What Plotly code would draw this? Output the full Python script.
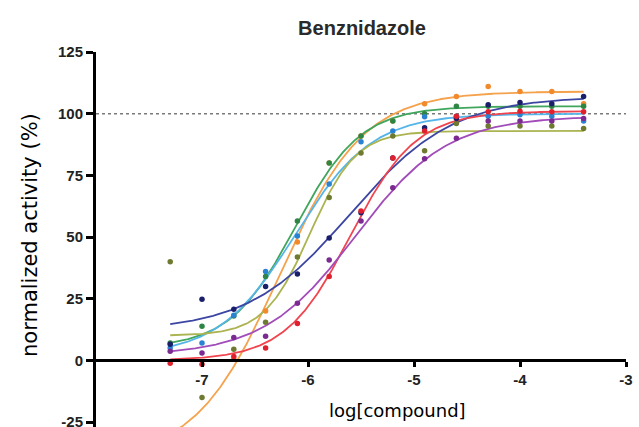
import plotly.graph_objects as go
import numpy as np

# ---- data ----
LOG_CONC = [-7.3, -7.0, -6.7, -6.4, -6.1, -5.8, -5.5, -5.2, -4.9, -4.6, -4.3, -4.0, -3.7, -3.4]

series_names = ["orange", "green", "blue", "olive", "navy", "red", "purple"]

orange_vals = [None, None, 0.5, 20, 48, 80, 91, 97, 104, 107, 111, 109, 109, 104]
green_vals = [7, 13.8, 18, 34, 56.5, 80, 91, 97, 100, 103, 103, 103, 103, 103]
blue_vals = [5, 7, 18.3, 36, 50.4, 71.5, 88.6, 93, 98.8, 99, 99, 99.6, 99, 97]
olive_vals = [40, -15, 4.5, 15.5, 41.9, 66, 84.1, 91, 85, 96, 95, 95, 95, 94]
navy_vals = [6.5, 24.8, 20.7, 30, 35, 49.6, 59.8, 82, 94.3, 98, 103.6, 104.5, 104, 107]
red_vals = [-1.2, -1.6, 1.6, 5, 15, 34, 60.6, 82, 93, 99, 100.8, 101, 100.8, 100.8]
purple_vals = [3.7, 3, 9.3, 9.8, 23.2, 40.7, 56.5, 70, 81.7, 90, 97, 97, 97, 98]

# fitted 4-parameter logistic curves (bottom, top, logEC50, hill)
fit_bottom = [-40, 5, 2, 10, 12, 0, 2]
fit_top = [109, 103, 100, 93, 107, 101, 99]
fit_logec50 = [-6.27, -6.12, -6.12, -5.98, -5.6, -5.6, -5.55]
fit_hill = [1.1, 1.4, 1.2, 2.0, 0.9, 1.4, 1.0]

Y_TICKS = [-25, 0, 25, 50, 75, 100, 125]
X_TICKS = [-7, -6, -5, -4, -3]
REFERENCE_LEVEL = 100

# ---- styles ----
line_colors = ["#F5A24C", "#3FA65C", "#55B5EA", "#ABB450", "#3C45A2", "#F0444E", "#A24CBA"]
marker_colors = ["#F08A2A", "#2E8544", "#2C82D2", "#6E7A30", "#1A1F6A", "#E0202E", "#7A2A90"]

all_vals = [orange_vals, green_vals, blue_vals, olive_vals, navy_vals, red_vals, purple_vals]

Y_MIN, Y_MAX = -27.0, 125
X_MIN, X_MAX = -8, -3

fig = go.Figure()

xs = np.linspace(min(LOG_CONC), max(LOG_CONC), 300)
for i, name in enumerate(series_names):
    b, t, e, h = fit_bottom[i], fit_top[i], fit_logec50[i], fit_hill[i]
    ys = b + (t - b) / (1 + 10 ** ((e - xs) * h))
    fig.add_trace(go.Scatter(x=xs, y=ys, mode="lines",
                             line=dict(color=line_colors[i], width=1.8),
                             showlegend=False, hoverinfo="skip"))

for i, name in enumerate(series_names):
    fig.add_trace(go.Scatter(x=LOG_CONC, y=all_vals[i], mode="markers",
                             marker=dict(color=marker_colors[i], size=5.5),
                             name=name, showlegend=False))

# dotted 100% line
fig.add_shape(type="line", xref="x", yref="y", x0=X_MIN, x1=X_MAX,
              y0=REFERENCE_LEVEL, y1=REFERENCE_LEVEL,
              line=dict(color="#7a7a7a", width=1.6, dash="dot"), layer="below")

x_pos = (0 - Y_MIN) / (Y_MAX - Y_MIN)

tick_font = dict(family="Liberation Sans, Arial", size=15, color="#222", weight="bold")

fig.update_layout(
    width=639, height=427,
    margin=dict(l=96, r=13, t=52, b=0, autoexpand=False),
    paper_bgcolor="white", plot_bgcolor="white",
    title=dict(text="<b>Benznidazole</b>", x=362 / 639, xanchor="center",
               y=1 - 28 / 427, yanchor="middle",
               font=dict(family="Liberation Sans, Arial", size=20, color="#2a2a2a")),
    xaxis=dict(range=[X_MIN, X_MAX], tickvals=X_TICKS, ticktext=[str(v) for v in X_TICKS],
               showgrid=False, zeroline=False, showline=True, linecolor="black", linewidth=3,
               ticks="outside", ticklen=5, tickwidth=2.5, tickcolor="black",
               anchor="free", position=x_pos, automargin=False,
               ticklabeloverflow="allow", tickfont=tick_font),
    yaxis=dict(range=[Y_MIN, Y_MAX], tickvals=Y_TICKS, ticktext=[str(v) for v in Y_TICKS],
               showgrid=False, zeroline=False, showline=True, linecolor="black", linewidth=3,
               ticks="outside", ticklen=7, tickwidth=2.5, tickcolor="black",
               automargin=False, ticklabeloverflow="allow", tickfont=tick_font),
)

fig.add_annotation(text="normalized activity (%)", xref="paper", yref="paper",
                   x=(30 - 96) / (639 - 96 - 13), y=1 - (235 - 52) / (427 - 52),
                   xanchor="center", yanchor="middle", textangle=-90, showarrow=False,
                   font=dict(family="DejaVu Sans", size=21, color="black"))
fig.add_annotation(text="log[compound]", xref="paper", yref="paper",
                   x=(397 - 96) / (639 - 96 - 13), y=1 - (410 - 52) / (427 - 52),
                   xanchor="center", yanchor="middle", showarrow=False,
                   font=dict(family="DejaVu Sans", size=18, color="black"))

fig.write_html("out.html", config={"displayModeBar": False},
               post_script="document.body.style.margin='0';document.body.style.overflow='hidden';")
